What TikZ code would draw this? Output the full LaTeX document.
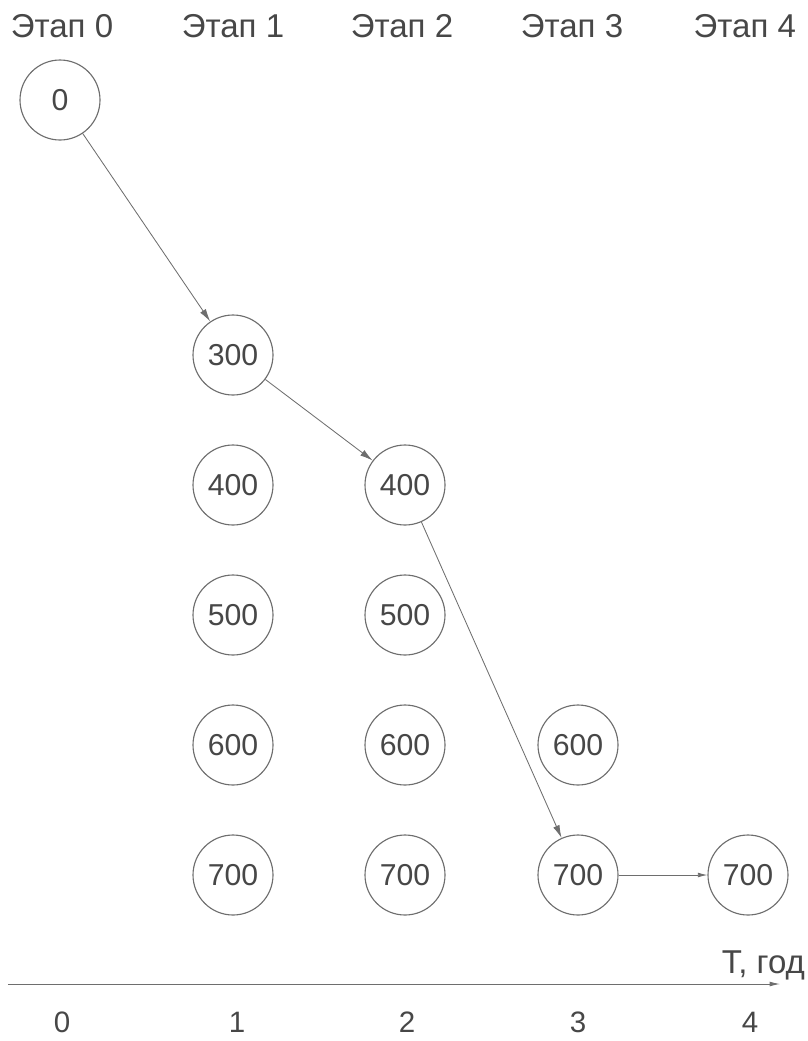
\documentclass[tikz,border=0pt]{standalone}
\usepackage{fontspec}
\setmainfont{Liberation Sans}
\usepackage{xcolor}
\usepackage{tikz}
\usetikzlibrary{arrows.meta,positioning}
\definecolor{StageGray}{HTML}{6E6E6E}
\definecolor{StageText}{HTML}{474747}
\tikzset{
  stagenode/.style={circle,draw=StageGray,fill=white,minimum size=2cm,inner sep=0pt,
    line width=0.8pt,text=StageText,font=\fontsize{21.5}{25}\selectfont},
  stagearrow/.style={-{Latex[length=3.2mm,width=1.7mm]},StageGray,line width=0.6pt},
  stagelabel/.style={text=StageText,inner sep=0pt,anchor=base,font=\fontsize{23.5}{27}\selectfont}
}

\begin{document}
\begin{tikzpicture}[x=1cm,y=1cm]
  \path[use as bounding box] (0,-26.025) rectangle (20.2,0);

  % stage headers and time axis
  \foreach \x/\tx/\k in {1.55/1.55/0,5.825/5.925/1,10.05/10.175/2,14.3/14.45/3,18.62/18.75/4}{
    \node[stagelabel] (h\k) at (\x,-0.93) {Этап \k};
    \node[stagelabel,font=\fontsize{21}{25}\selectfont] (t\k) at (\tx,-25.82) {\k};
  }
  \coordinate (tstart) at (0.2,-24.6);
  \coordinate (tend) at (19.5,-24.6);
  \draw[stagearrow,-{Latex[length=2.6mm,width=1.2mm]}] (tstart) -- (tend);
  \node[stagelabel,anchor=base east] (tlabel) at (20.13,-24.33) {T, год};

  % states per stage
  \node[stagenode] (e0-0) at (1.5,-2.5) {0};
  \foreach \v/\r in {300/1,400/2,500/3,600/4,700/5}
    \node[stagenode] (e1-\v) at (5.825,{-5.625-3.25*\r}) {\v};
  \foreach \v/\r in {400/2,500/3,600/4,700/5}
    \node[stagenode] (e2-\v) at (10.125,{-5.625-3.25*\r}) {\v};
  \foreach \v/\r in {600/4,700/5}
    \node[stagenode] (e3-\v) at (14.45,{-5.625-3.25*\r}) {\v};
  \node[stagenode] (e4-700) at (18.7,-21.875) {700};

  % optimal path
  \draw[stagearrow] (e0-0) -- (e1-300);
  \draw[stagearrow] (e1-300) -- (e2-400);
  \draw[stagearrow] (e2-400) -- (e3-700);
  \draw[stagearrow,-{Latex[length=2.4mm,width=1.2mm]}] (e3-700) -- (e4-700);
\end{tikzpicture}
\end{document}
